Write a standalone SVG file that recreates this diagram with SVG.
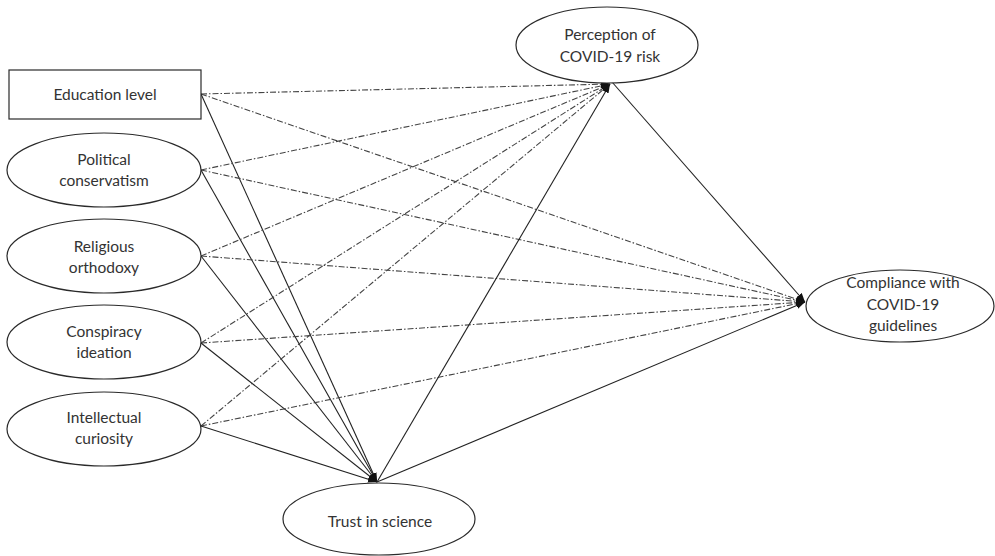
<svg xmlns="http://www.w3.org/2000/svg" width="995" height="556" viewBox="0 0 995 556">
<defs>
<marker id="ah" markerWidth="9" markerHeight="7" refX="9" refY="3.5" orient="auto" markerUnits="userSpaceOnUse">
<path d="M0,0 L9,3.5 L0,7 z" fill="#111"/>
</marker>
<style>
.node{fill:#fff;stroke:#2a2a2a;stroke-width:1.2}
.lbl{font-family:Lato,"Open Sans","Liberation Sans",sans-serif;font-size:15.5px;fill:#333;text-anchor:middle}
.solid{fill:none;stroke:#222;stroke-width:1.1;marker-end:url(#ah)}
.dash{fill:none;stroke:#444;stroke-width:1.1;stroke-dasharray:6 2 1.5 2;marker-end:url(#ah)}
</style>
</defs>
<rect width="995" height="556" fill="#fff"/>
<g id="connectors">
<line class="dash" x1="201" y1="94" x2="610" y2="84"/>
<line class="dash" x1="201" y1="94" x2="805" y2="302"/>
<line class="solid" x1="201" y1="94" x2="377" y2="482"/>
<line class="dash" x1="201" y1="170" x2="610" y2="84"/>
<line class="dash" x1="201" y1="170" x2="805" y2="302"/>
<line class="solid" x1="201" y1="170" x2="377" y2="482"/>
<line class="dash" x1="201" y1="256" x2="610" y2="84"/>
<line class="dash" x1="201" y1="256" x2="805" y2="302"/>
<line class="solid" x1="201" y1="256" x2="377" y2="482"/>
<line class="dash" x1="201" y1="343" x2="610" y2="84"/>
<line class="dash" x1="201" y1="343" x2="805" y2="302"/>
<line class="solid" x1="201" y1="343" x2="377" y2="482"/>
<line class="dash" x1="201" y1="426" x2="610" y2="84"/>
<line class="dash" x1="201" y1="426" x2="805" y2="302"/>
<line class="solid" x1="201" y1="426" x2="377" y2="482"/>
<line class="solid" x1="377" y1="482" x2="610" y2="84"/>
<line class="solid" x1="377" y1="482" x2="805" y2="302"/>
<line class="solid" x1="612" y1="82" x2="805" y2="302"/>
</g>
<g id="education">
<rect class="node" x="9" y="70" width="192" height="49"/>
<text class="lbl" x="105" y="100">Education level</text>
</g>
<g id="political">
<ellipse class="node" cx="104" cy="170" rx="97" ry="37"/>
<text class="lbl" x="104" y="165">Political</text>
<text class="lbl" x="104" y="186">conservatism</text>
</g>
<g id="religious">
<ellipse class="node" cx="104" cy="256" rx="97" ry="37"/>
<text class="lbl" x="104" y="252">Religious</text>
<text class="lbl" x="104" y="273">orthodoxy</text>
</g>
<g id="conspiracy">
<ellipse class="node" cx="104" cy="342" rx="97" ry="37"/>
<text class="lbl" x="104" y="337">Conspiracy</text>
<text class="lbl" x="104" y="358">ideation</text>
</g>
<g id="intellectual">
<ellipse class="node" cx="104" cy="429" rx="97" ry="37"/>
<text class="lbl" x="104" y="423">Intellectual</text>
<text class="lbl" x="104" y="444">curiosity</text>
</g>
<g id="perception">
<ellipse class="node" cx="607" cy="45" rx="91" ry="38"/>
<text class="lbl" x="610" y="40">Perception of</text>
<text class="lbl" x="610" y="62">COVID-19 risk</text>
</g>
<g id="compliance">
<ellipse class="node" cx="900" cy="306" rx="94" ry="36"/>
<text class="lbl" x="903" y="288">Compliance with</text>
<text class="lbl" x="903" y="310">COVID-19</text>
<text class="lbl" x="903" y="331">guidelines</text>
</g>
<g id="trust">
<ellipse class="node" cx="379" cy="519" rx="96" ry="36"/>
<text class="lbl" x="380" y="527">Trust in science</text>
</g>
</svg>
